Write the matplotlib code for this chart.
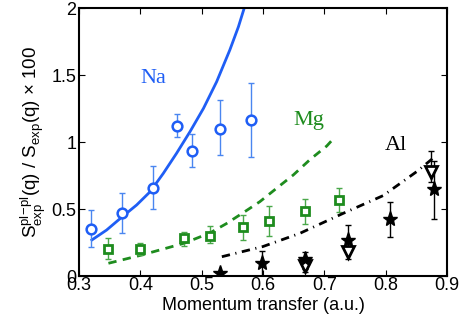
import matplotlib
matplotlib.use('Agg')
import matplotlib.pyplot as plt

plt.rcParams['font.family'] = ['Liberation Sans', 'DejaVu Sans']
plt.rcParams['mathtext.fontset'] = 'custom'
plt.rcParams['mathtext.rm'] = 'Liberation Sans'

# Na data (circles) and model curve
na_q = [0.32, 0.37, 0.42, 0.46, 0.485, 0.53, 0.58]
na_s = [0.35, 0.47, 0.66, 1.12, 0.935, 1.10, 1.165]
na_lo = [0.22, 0.32, 0.50, 1.04, 0.81, 0.90, 0.89]
na_hi = [0.49, 0.62, 0.82, 1.21, 1.06, 1.31, 1.44]
na_curve_q = [0.321, 0.345, 0.37, 0.394, 0.416, 0.4375, 0.459, 0.481, 0.503, 0.5245, 0.546, 0.560, 0.5695]
na_curve_s = [0.269, 0.343, 0.44, 0.53, 0.629, 0.766, 0.915, 1.077, 1.251, 1.45, 1.687, 1.86, 2.0]

# Mg data (squares) and model curve
mg_q = [0.347, 0.40, 0.471, 0.513, 0.567, 0.61, 0.669, 0.724]
mg_s = [0.204, 0.20, 0.28, 0.30, 0.366, 0.41, 0.485, 0.567]
mg_lo = [0.125, 0.157, 0.226, 0.244, 0.27, 0.30, 0.39, 0.475]
mg_hi = [0.28, 0.25, 0.33, 0.37, 0.455, 0.52, 0.575, 0.654]
mg_curve_q = [0.348, 0.40, 0.471, 0.513, 0.54, 0.568, 0.595, 0.622, 0.6495, 0.677, 0.704, 0.716]
mg_curve_s = [0.095, 0.154, 0.244, 0.32, 0.39, 0.473, 0.555, 0.654, 0.754, 0.87, 0.97, 1.03]

# Al data (stars, triangles) and model curve
al_star_q = [0.53, 0.599, 0.668, 0.739, 0.808, 0.879]
al_star_s = [0.025, 0.095, 0.125, 0.27, 0.423, 0.647]
al_star_lo = [0.025, 0.0, 0.03, 0.17, 0.29, 0.425]
al_star_hi = [0.025, 0.187, 0.177, 0.38, 0.555, 0.86]
al_tri_q = [0.668, 0.739, 0.874]
al_tri_s = [0.075, 0.177, 0.78]
al_tri_lo = [0.05, 0.13, 0.70]
al_tri_hi = [0.10, 0.22, 0.936]
al_curve_q = [0.533, 0.60, 0.66, 0.731, 0.796, 0.851, 0.883]
al_curve_s = [0.144, 0.22, 0.318, 0.468, 0.60, 0.78, 0.90]

na_col = '#1f5ef5'
na_err = '#4a86f0'
mg_col = '#1e8c1e'
mg_err = '#4aa84a'

fig = plt.figure(figsize=(4.66, 3.28), dpi=100)
ax = fig.add_axes([0.1695, 0.1585, 0.7895, 0.817])

# Na
ax.plot(na_curve_q, na_curve_s, '-', color=na_col, lw=2)
ax.errorbar(na_q, na_s,
            yerr=[[s - l for s, l in zip(na_s, na_lo)], [h - s for s, h in zip(na_s, na_hi)]],
            fmt='none', ecolor=na_err, elinewidth=1, capsize=2)
ax.plot(na_q, na_s, 'o', ms=7, mfc='white', mec=na_col, mew=1.8)

# Mg
ax.plot(mg_curve_q, mg_curve_s, '--', color=mg_col, lw=2, dashes=(3, 2.3))
ax.errorbar(mg_q, mg_s,
            yerr=[[s - l for s, l in zip(mg_s, mg_lo)], [h - s for s, h in zip(mg_s, mg_hi)]],
            fmt='none', ecolor=mg_err, elinewidth=1, capsize=2)
ax.plot(mg_q, mg_s, 's', ms=6, mfc='white', mec=mg_col, mew=2)

# Al
ax.plot(al_curve_q, al_curve_s, color='black', lw=2, dashes=(3, 2, 0.4, 2))
ax.errorbar(al_star_q, al_star_s,
            yerr=[[s - l for s, l in zip(al_star_s, al_star_lo)], [h - s for s, h in zip(al_star_s, al_star_hi)]],
            fmt='none', ecolor='black', elinewidth=1, capsize=2)
ax.errorbar(al_tri_q, al_tri_s,
            yerr=[[s - l for s, l in zip(al_tri_s, al_tri_lo)], [h - s for s, h in zip(al_tri_s, al_tri_hi)]],
            fmt='none', ecolor='black', elinewidth=1, capsize=2)
ax.plot(al_tri_q, al_tri_s, 'v', ms=8, mfc='white', mec='black', mew=2)
ax.plot(al_star_q, al_star_s, '*', ms=11, color='black')

# labels on the curves
ax.text(0.40, 1.44, 'Na', color=na_col, fontsize=16, family='Liberation Serif')
ax.text(0.649, 1.13, 'Mg', color=mg_col, fontsize=16, family='Liberation Serif')
ax.text(0.799, 0.94, 'Al', color='black', fontsize=16, family='Liberation Serif')

ax.set_xlim(0.3, 0.9)
ax.set_ylim(0, 2)
ax.set_xticks([0.3, 0.4, 0.5, 0.6, 0.7, 0.8, 0.9])
ax.set_xticklabels(['0.3', '0.4', '0.5', '0.6', '0.7', '0.8', '0.9'])
ax.set_yticks([0, 0.5, 1, 1.5, 2])
ax.set_yticklabels(['0', '0.5', '1', '1.5', '2'])
ax.tick_params(direction='in', top=True, right=True, labelsize=13, length=4)
ax.tick_params(axis='x', pad=1)
ax.tick_params(axis='y', pad=2)
for sp in ax.spines.values():
    sp.set_linewidth(1.5)

ax.set_xlabel('Momentum transfer (a.u.)', fontsize=13, labelpad=2)
ax.set_ylabel(r'S$^{\mathrm{pl\!-\!pl}}_{\mathrm{exp}}$(q) / S$_{\mathrm{exp}}$(q) $\times$ 100', fontsize=13.5, labelpad=2)

fig.savefig('out.png', dpi=100)
